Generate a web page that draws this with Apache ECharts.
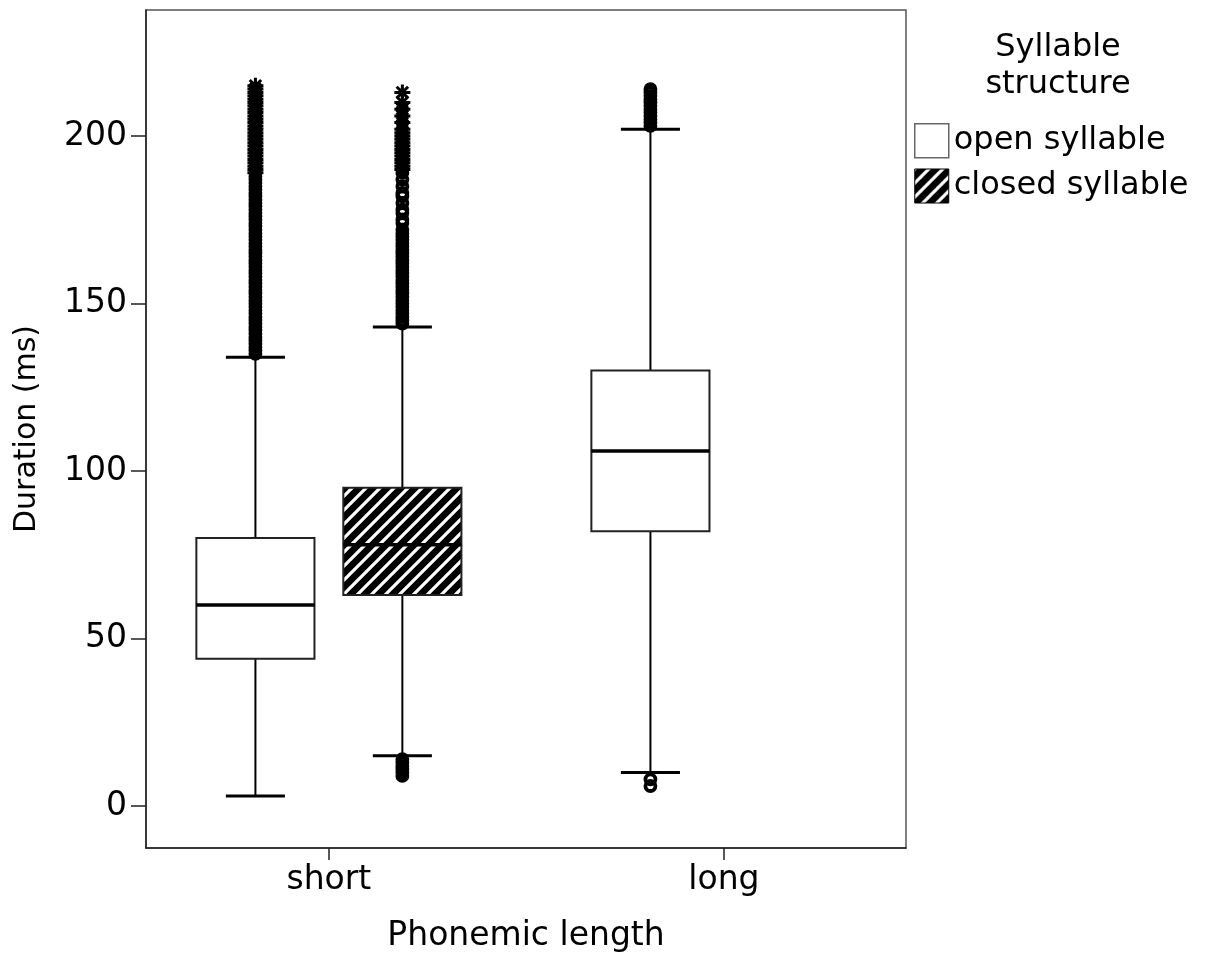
<!DOCTYPE html>
<html>
<head>
<meta charset="utf-8">
<script src="https://cdn.jsdelivr.net/npm/echarts@6/dist/echarts.min.js"></script>
<style>html,body{margin:0;padding:0;background:#fff}#c{width:1209px;height:964px}</style>
</head>
<body>
<div id="c"></div>
<script>
// ---- data ----
const categories = ['short', 'long'];
const categoryPositions = [1, 2];
const groupNames = ['open syllable', 'closed syllable'];
// [min whisker, Q1, median, Q3, max whisker] per category (null = no box)
const openStats = [[3, 44, 60, 80, 134], [10, 82, 106, 130, 202]];
const closedStats = [[15, 63, 78, 95, 143], null];
// outliers (circles) and extremes (stars), per category
const openCircles = [
  [135,136,137,138,139,140,141,142,143,144,145,146,147,148,149,150,151,152,153,154,155,156,157,158,159,160,161,162,163,164,165,166,167,168,169,170,171,172,173,174,175,176,177,178,179,180,181,182,183,184,185,186,187,188],
  [6, 8, 203,204,205,206,207,208,209,210,211,212,213,214]
];
const openStars = [
  [189,190,191,192,193,194,195,196,197,198,199,200,201,202,203,204,205,206,207,208,209,210,211,212,213,214,215],
  []
];
const closedCircles = [
  [9,10,11,12,13,14, 144,145,146,147,148,149,150,151,152,153,154,155,156,157,158,159,160,161,162,163,164,165,166,167,168,169,170,171,172,174,175,177,178,180,182,183,185,187,189],
  []
];
const closedStars = [
  [190,191,192,193,194,195,196,197,198,199,200,201,202,204,206,208,210,213],
  []
];
const yTicks = [0, 50, 100, 150, 200];

// ---- layout ----
const FONT = 'DejaVu Sans';
const GROUP_OFFSET = 0.186; // in category units
const BOX_W = 0.299;

const hatch = (function () {
  const s = 14;
  const c = document.createElement('canvas');
  c.width = s; c.height = s;
  const g = c.getContext('2d');
  g.fillStyle = '#000'; g.fillRect(0, 0, s, s);
  g.strokeStyle = '#fff'; g.lineWidth = 3.2;
  g.beginPath();
  g.moveTo(-s, s); g.lineTo(s, -s);
  g.moveTo(0, 2 * s); g.lineTo(2 * s, 0);
  g.moveTo(0, s); g.lineTo(s, 0);
  g.stroke();
  return { image: c, repeat: 'repeat' };
})();

function boxData(stats) {
  const out = [];
  stats.forEach((s, i) => { if (s) out.push([categoryPositions[i]].concat(s)); });
  return out;
}
function pointData(lists, offset) {
  const out = [];
  lists.forEach((vals, i) => vals.forEach(v => out.push([categoryPositions[i] + offset, v])));
  return out;
}

function makeRender(offset, fill) {
  return function (params, api) {
    const xv = api.value(0) + offset;
    const unit = api.size([1, 0])[0];
    const w = BOX_W * unit;
    const cx = api.coord([xv, 0])[0];
    const y = k => api.coord([xv, api.value(k)])[1];
    const yMin = y(1), yQ1 = y(2), yMed = y(3), yQ3 = y(4), yMax = y(5);
    const line = (x1, y1, x2, y2, lw) => ({
      type: 'line', shape: { x1, y1, x2, y2 },
      style: { stroke: '#000', lineWidth: lw }
    });
    return {
      type: 'group',
      children: [
        line(cx, yQ3, cx, yMax, 2),
        line(cx, yQ1, cx, yMin, 2),
        line(cx - w / 4, yMax, cx + w / 4, yMax, 3),
        line(cx - w / 4, yMin, cx + w / 4, yMin, 3),
        { type: 'rect', shape: { x: cx - w / 2, y: yQ3, width: w, height: yQ1 - yQ3 },
          style: { fill: fill, stroke: '#222', lineWidth: 2 } },
        line(cx - w / 2, yMed, cx + w / 2, yMed, 3.5)
      ]
    };
  };
}

const STAR = 'path://M0,-7L0,7M-7,0L7,0M-5,-5L5,5M-5,5L5,-5';
function circleSeries(data) {
  return { type: 'scatter', data, symbol: 'circle', symbolSize: 10, z: 3,
    itemStyle: { color: 'rgba(0,0,0,0)', borderColor: '#000', borderWidth: 3.8, opacity: 1 }, silent: true };
}
function starSeries(data) {
  return { type: 'scatter', data, symbol: STAR, symbolSize: 16, z: 3,
    itemStyle: { color: 'rgba(0,0,0,0)', borderColor: '#000', borderWidth: 3, opacity: 1 }, silent: true };
}

const chart = echarts.init(document.getElementById('c'), null, { renderer: 'canvas' });
chart.setOption({
  animation: false,
  backgroundColor: '#fff',
  title: {
    text: 'Syllable\nstructure', left: 1053, top: 24, textAlign: 'center',
    textStyle: { fontFamily: FONT, fontSize: 32, fontWeight: 'normal', color: '#000', lineHeight: 37 }
  },
  legend: {
    orient: 'vertical', left: 909, top: 118, itemWidth: 34, itemHeight: 34, itemGap: 10,
    textStyle: { fontFamily: FONT, fontSize: 32, color: '#000', padding: [0, 0, 0, 0] },
    data: [
      { name: groupNames[0], icon: 'rect', itemStyle: { color: '#fff', borderColor: '#666', borderWidth: 1.5 } },
      { name: groupNames[1], icon: 'rect', itemStyle: { color: hatch, borderColor: '#000', borderWidth: 1 } }
    ]
  },
  grid: { left: 146, top: 10, right: 303, bottom: 116, show: true, borderColor: '#555', borderWidth: 1.5 },
  xAxis: {
    type: 'value', min: 0.537, max: 2.461,
    name: 'Phonemic length', nameLocation: 'middle', nameGap: 72,
    nameTextStyle: { fontFamily: FONT, fontSize: 33, color: '#000' },
    axisLine: { show: true, onZero: false, lineStyle: { color: '#222', width: 1.5 } },
    axisTick: { show: true, length: 12, customValues: categoryPositions, lineStyle: { color: '#222', width: 1.5 } },
    axisLabel: { customValues: categoryPositions, margin: 16, fontFamily: FONT, fontSize: 33, color: '#000',
      formatter: v => categories[categoryPositions.indexOf(Math.round(v))] || '' },
    splitLine: { show: false }
  },
  yAxis: {
    type: 'value', min: -12.5, max: 237.6,
    name: 'Duration (ms)', nameLocation: 'middle', nameGap: 104,
    nameTextStyle: { fontFamily: FONT, fontSize: 30, color: '#000' },
    axisLine: { show: true, onZero: false, lineStyle: { color: '#222', width: 1.5 } },
    axisTick: { show: true, length: 15, customValues: yTicks, lineStyle: { color: '#222', width: 1.5 } },
    axisLabel: { customValues: yTicks, margin: 19, fontFamily: FONT, fontSize: 33, color: '#000' },
    splitLine: { show: false }
  },
  series: [
    { name: groupNames[0], type: 'custom', renderItem: makeRender(-GROUP_OFFSET, '#fff'),
      itemStyle: { color: '#fff', borderColor: '#666' },
      data: boxData(openStats), z: 2, encode: { x: 0, y: [1, 2, 3, 4, 5] } },
    { name: groupNames[1], type: 'custom', renderItem: makeRender(GROUP_OFFSET, hatch),
      itemStyle: { color: hatch, borderColor: '#000' },
      data: boxData(closedStats), z: 2, encode: { x: 0, y: [1, 2, 3, 4, 5] } },
    circleSeries(pointData(openCircles, -GROUP_OFFSET)),
    starSeries(pointData(openStars, -GROUP_OFFSET)),
    circleSeries(pointData(closedCircles, GROUP_OFFSET)),
    starSeries(pointData(closedStars, GROUP_OFFSET))
  ]
});
</script>
</body>
</html>
